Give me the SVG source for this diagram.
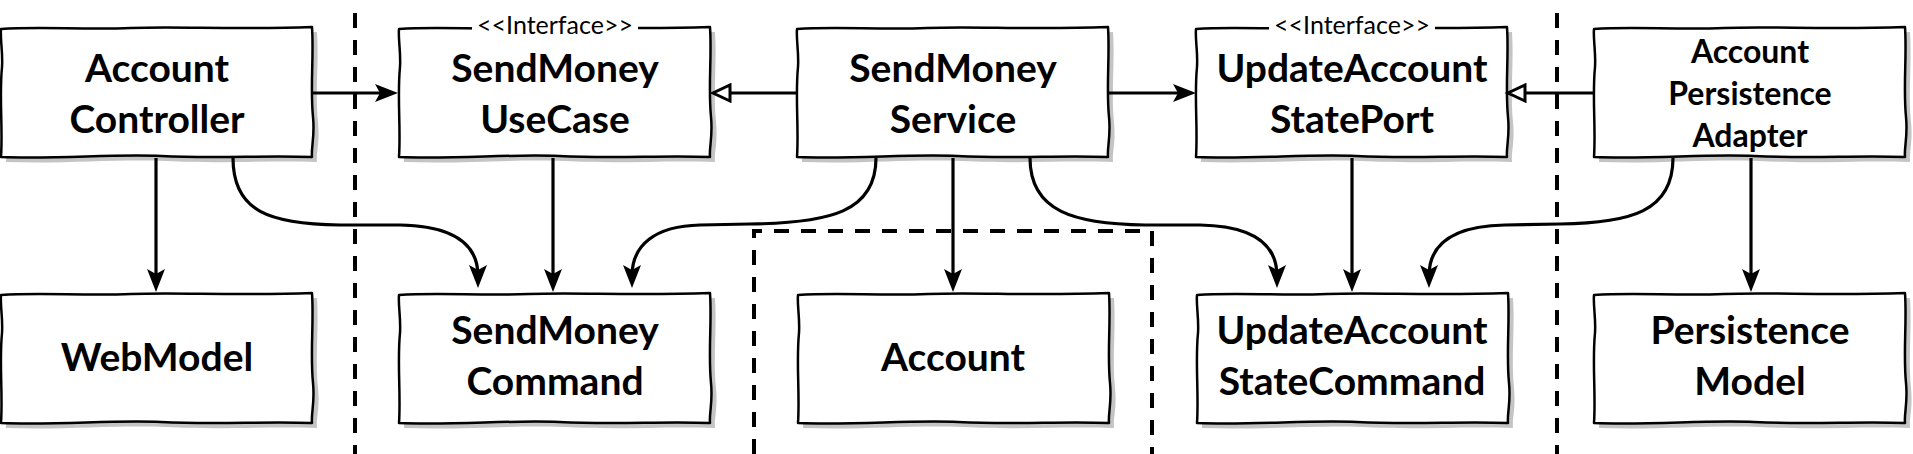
<svg xmlns="http://www.w3.org/2000/svg" width="1913" height="454" viewBox="0 0 1913 454">
<style>
.t{font-family:Lato,"Liberation Sans",sans-serif;font-weight:bold;font-size:39px;fill:#000;text-anchor:middle}
.s{font-size:32px}
.i{font-family:Lato,"Liberation Sans",sans-serif;font-size:25px;fill:#000;text-anchor:middle}
.c{fill:none;stroke:#000;stroke-width:3.2}
.d{fill:none;stroke:#000;stroke-width:4;stroke-dasharray:15 12}
.bx{fill:#fff;stroke:#000;stroke-width:2.5;stroke-linejoin:round}
.sh{fill:#c4c4c4}
</style>
<defs>
<path id="box" d="M0,2 C40,-1 80,3 130,1 C180,-1 230,3 311,0 C313,30 309,60 312,90 C314,110 310,120 311,130 C260,128 220,132 160,129 C110,127 60,132 0,130 C2,100 -2,70 1,40 C2,25 -1,12 0,2 Z"/>
<g id="node"><use href="#box" class="sh" transform="translate(5,5)"/><use href="#box" class="bx"/></g>
<marker id="arr" markerWidth="26" markerHeight="20" refX="12" refY="10" orient="auto" markerUnits="userSpaceOnUse"><path d="M1,1 L24,10 L1,19 L6,10 Z" fill="#000"/></marker>
<marker id="tri" markerWidth="24" markerHeight="20" refX="3" refY="10" orient="auto" markerUnits="userSpaceOnUse"><path d="M3,2 L20,10 L3,18 Z" fill="#fff" stroke="#000" stroke-width="3" stroke-linejoin="miter"/></marker>
</defs>
<rect width="1913" height="454" fill="#fff"/>
<g id="boundaries">
<path class="d" d="M355,13 V454"/>
<path class="d" d="M1557,13 V454"/>
<path class="d" d="M754,454 V231 H1152 V454"/>
</g>
<g id="AccountController"><use href="#node" transform="translate(1,27)"/><text class="t" x="157" y="82">Account</text><text class="t" x="157" y="133">Controller</text></g>
<g id="SendMoneyUseCase"><use href="#node" transform="translate(399,27)"/><rect x="472" y="14" width="166" height="24" fill="#fff"/><text class="i" x="555" y="34">&lt;&lt;Interface&gt;&gt;</text><text class="t" x="555" y="82">SendMoney</text><text class="t" x="555" y="133">UseCase</text></g>
<g id="SendMoneyService"><use href="#node" transform="translate(797,27)"/><text class="t" x="953" y="82">SendMoney</text><text class="t" x="953" y="133">Service</text></g>
<g id="UpdateAccountStatePort"><use href="#node" transform="translate(1196,27)"/><rect x="1269" y="14" width="166" height="24" fill="#fff"/><text class="i" x="1352" y="34">&lt;&lt;Interface&gt;&gt;</text><text class="t" x="1352" y="82">UpdateAccount</text><text class="t" x="1352" y="133">StatePort</text></g>
<g id="AccountPersistenceAdapter"><use href="#node" transform="translate(1594,27)"/><text class="t s" x="1750" y="63">Account</text><text class="t s" x="1750" y="105">Persistence</text><text class="t s" x="1750" y="147">Adapter</text></g>
<g id="WebModel"><use href="#node" transform="translate(1,293)"/><text class="t" x="157" y="371">WebModel</text></g>
<g id="SendMoneyCommand"><use href="#node" transform="translate(399,293)"/><text class="t" x="555" y="344">SendMoney</text><text class="t" x="555" y="395">Command</text></g>
<g id="Account"><use href="#node" transform="translate(798,293)"/><text class="t" x="953" y="371">Account</text></g>
<g id="UpdateAccountStateCommand"><use href="#node" transform="translate(1197,293)"/><text class="t" x="1352" y="344">UpdateAccount</text><text class="t" x="1352" y="395">StateCommand</text></g>
<g id="PersistenceModel"><use href="#node" transform="translate(1594,293)"/><text class="t" x="1750" y="344">Persistence</text><text class="t" x="1750" y="395">Model</text></g>
<g id="connectors">
<path class="c" marker-end="url(#arr)" d="M312,93 H386"/>
<path class="c" marker-end="url(#tri)" d="M797,93 H730"/>
<path class="c" marker-end="url(#arr)" d="M1108,93 H1184"/>
<path class="c" marker-end="url(#tri)" d="M1594,93 H1525"/>
<path class="c" marker-end="url(#arr)" d="M156,158 V280"/>
<path class="c" marker-end="url(#arr)" d="M553,158 V280"/>
<path class="c" marker-end="url(#arr)" d="M953,158 V280"/>
<path class="c" marker-end="url(#arr)" d="M1352,158 V280"/>
<path class="c" marker-end="url(#arr)" d="M1751,158 V280"/>
<path class="c" marker-end="url(#arr)" d="M233,158 C233,212 270,224 340,225 L400,225 C455,226 478,245 478,276"/>
<path class="c" marker-end="url(#arr)" d="M876,158 C876,212 830,223 750,224 L700,225 C655,226 632,245 632,276"/>
<path class="c" marker-end="url(#arr)" d="M1030,158 C1030,212 1075,224 1145,225 L1200,225 C1255,226 1277,245 1277,276"/>
<path class="c" marker-end="url(#arr)" d="M1673,158 C1673,212 1630,223 1560,224 L1505,225 C1452,226 1429,245 1429,276"/>
</g>
</svg>
